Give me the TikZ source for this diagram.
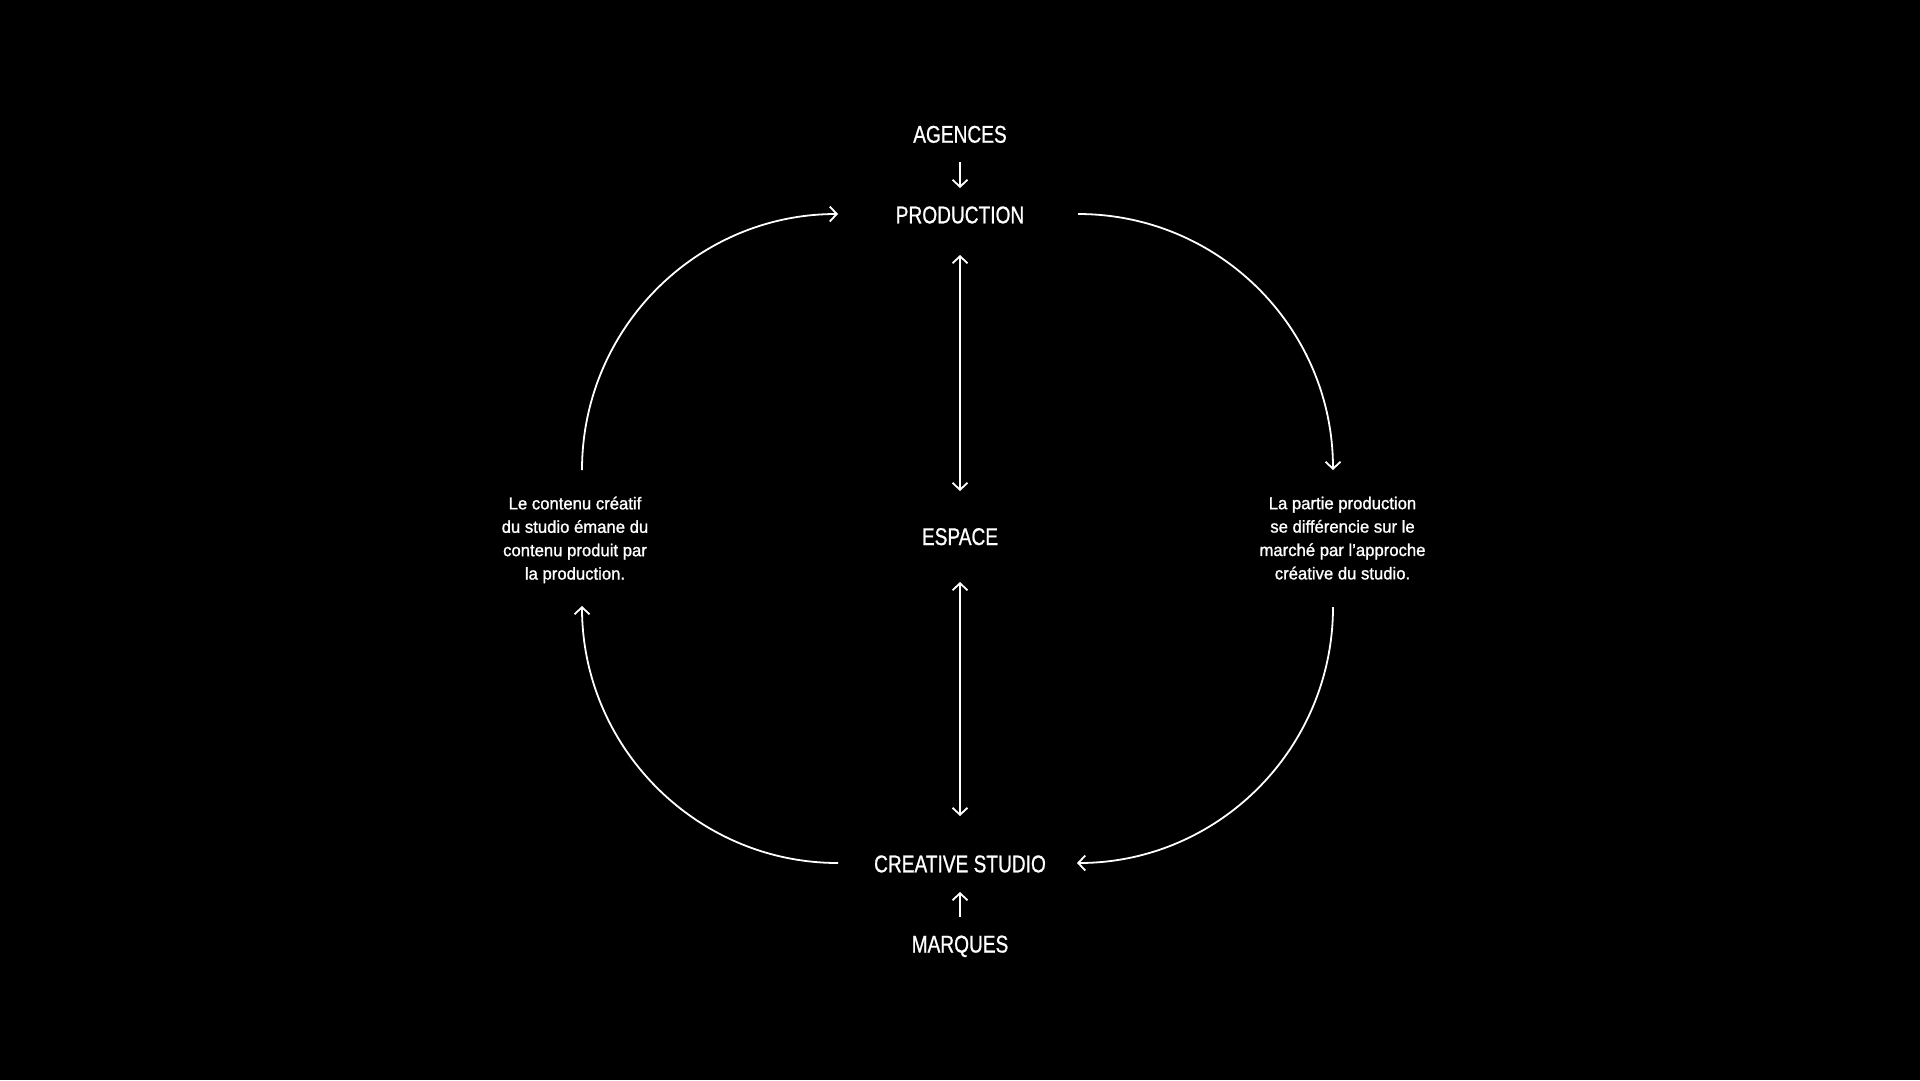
\documentclass[tikz,border=0pt]{standalone}
\usepackage{fontspec}
\setmainfont{Liberation Sans}
\newfontfamily\hubfont{Liberation Sans}[FakeStretch=0.79,FakeBold=0.8]
\newfontfamily\notefont{Liberation Sans}[FakeStretch=0.97,FakeBold=1.2]
\usetikzlibrary{arrows.meta}
\begin{document}
\begin{tikzpicture}[x=1pt,y=-1pt,
  hub/.style={text=white,font=\hubfont\fontsize{24.2}{28}\selectfont,inner sep=0pt,anchor=base},
  note/.style={text=white,font=\notefont\fontsize{17.2}{23.4}\selectfont,align=center,inner sep=0pt,anchor=north},
  tip/.tip={Straight Barb[length=7pt,width=15pt]},
  link/.style={draw=white,line width=1.8pt,-tip},
  both/.style={draw=white,line width=1.8pt,tip-tip}
]
\fill[black] (0,0) rectangle (1920,1080);
\useasboundingbox (0,0) rectangle (1920,1080);

% labels
\node[hub] (agences) at (960,142.7) {AGENCES};
\node[hub] (prod) at (960,223.3) {PRODUCTION};
\node[hub] (espace) at (960,545) {ESPACE};
\node[hub] (studio) at (960,872.3) {CREATIVE STUDIO};
\node[hub] (marques) at (960,952.5) {MARQUES};

\node[note] (left) at (575,496.5) {Le contenu créatif\\du studio émane du\\contenu produit par\\la production.};
\node[note] (right) at (1342.5,496.5) {La partie production\\se différencie sur le\\marché par l’approche\\créative du studio.};

% connector ends
\coordinate (agS) at (960,162);
\coordinate (prN) at (960,188);
\coordinate (prS) at (960,255);
\coordinate (esN) at (960,491);
\coordinate (esS) at (960,582);
\coordinate (stN) at (960,816);
\coordinate (stS) at (960,892);
\coordinate (maN) at (960,917);
\coordinate (prW) at (838,214);
\coordinate (prE) at (1078,214);
\coordinate (stW) at (838,863);
\coordinate (stE) at (1077,863);
\coordinate (leN) at (582,470);
\coordinate (leS) at (582,606);
\coordinate (riN) at (1333,470);
\coordinate (riS) at (1333,607);

% straight arrows
\draw[link] (agS) -- (prN);
\draw[both] (prS) -- (esN);
\draw[both] (esS) -- (stN);
\draw[link] (maN) -- (stS);

% arcs (quarter circles)
\draw[link] (leN) .. controls (582,328.6) and (696.6,214) .. (prW);
\draw[link] (prE) .. controls (1219.4,214) and (1333,328.6) .. (riN);
\draw[link] (riS) .. controls (1333,748.4) and (1218.4,863) .. (stE);
\draw[link] (stW) .. controls (696.6,863) and (582,747.4) .. (leS);
\end{tikzpicture}
\end{document}
